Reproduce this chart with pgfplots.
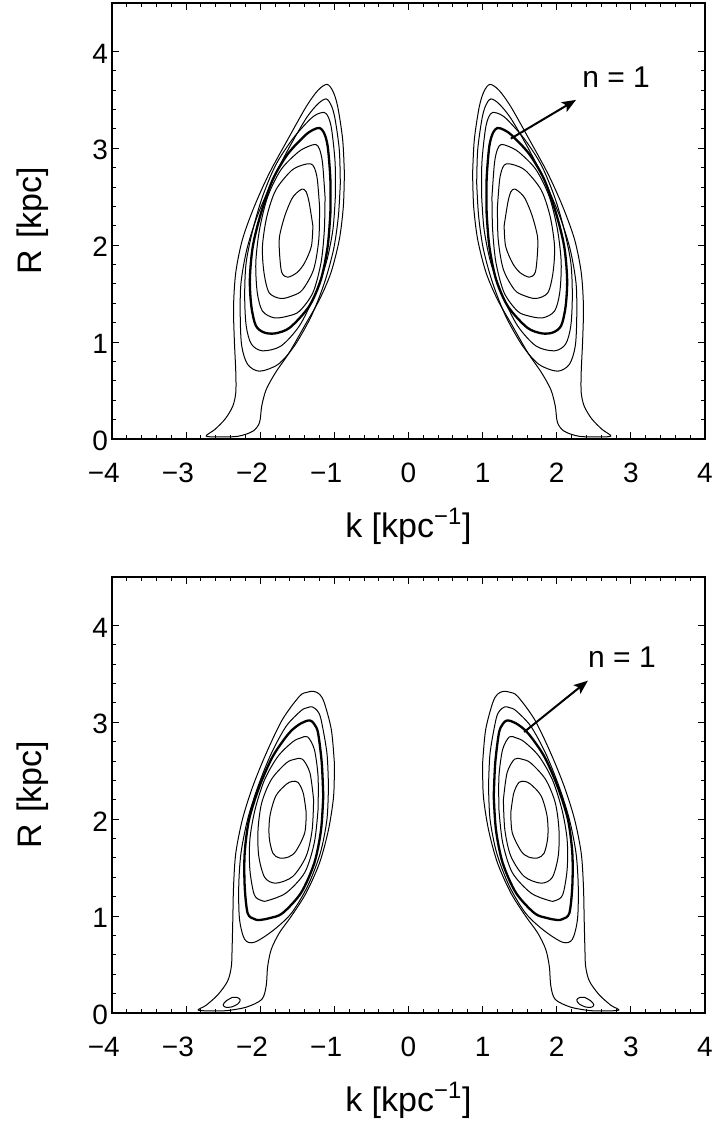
\documentclass[border=0pt]{standalone}
\usepackage{fontspec}
\setmainfont{Liberation Sans}
\usepackage{pgfplots}
\usepackage{pgfplotstable}
\pgfplotsset{compat=1.18}
\usetikzlibrary{arrows.meta}

% right-hand lobes (k > 0); the left lobes are their mirror images
% upper panel, outermost to innermost
\pgfplotstableread{
k R
0.865 2.74
0.888 3.09
0.955 3.43
1.02 3.59
1.10 3.66
1.22 3.60
1.38 3.43
1.63 3.09
1.88 2.74
2.08 2.40
2.24 2.06
2.33 1.72
2.36 1.37
2.35 1.03
2.33 0.69
2.33 0.48
2.37 0.34
2.47 0.21
2.61 0.10
2.73 0.03
2.55 0.022
2.30 0.028
2.10 0.08
2.01 0.17
1.98 0.34
1.92 0.51
1.79 0.69
1.61 0.89
1.40 1.17
1.20 1.44
1.045 1.72
0.933 2.06
0.879 2.40
0.865 2.74
}\topA
\pgfplotstableread{
k R
0.92 2.64
0.933 2.98
0.99 3.30
1.04 3.44
1.11 3.51
1.22 3.46
1.38 3.31
1.63 2.98
1.85 2.64
2.04 2.30
2.18 1.96
2.26 1.61
2.27 1.27
2.25 0.96
2.17 0.77
2.01 0.70
1.76 0.77
1.54 0.96
1.31 1.27
1.135 1.61
1.01 1.96
0.946 2.30
0.92 2.64
}\topB
\pgfplotstableread{
k R
0.987 2.50
0.99 2.85
1.036 3.19
1.08 3.32
1.135 3.37
1.24 3.35
1.34 3.29
1.56 3.10
1.79 2.83
1.97 2.50
2.10 2.16
2.19 1.82
2.21 1.48
2.19 1.17
2.12 0.98
1.97 0.91
1.72 0.96
1.47 1.17
1.27 1.48
1.11 1.82
1.02 2.16
0.987 2.50
}\topC
\pgfplotstableread{
k R
1.054 2.33
1.054 2.68
1.09 3.02
1.14 3.16
1.20 3.21
1.29 3.19
1.40 3.13
1.63 2.94
1.83 2.68
1.99 2.33
2.10 1.99
2.14 1.65
2.12 1.37
2.06 1.17
1.95 1.10
1.80 1.09
1.60 1.15
1.34 1.37
1.18 1.65
1.09 1.99
1.054 2.33
}\topD
\pgfplotstableread{
k R
1.126 2.50
1.16 2.85
1.20 2.99
1.25 3.04
1.35 3.02
1.49 2.96
1.72 2.78
1.90 2.50
2.01 2.16
2.06 1.82
2.04 1.51
1.97 1.32
1.81 1.25
1.62 1.27
1.47 1.32
1.29 1.51
1.18 1.82
1.135 2.16
1.126 2.50
}\topE
\pgfplotstableread{
k R
1.20 2.40
1.23 2.68
1.27 2.80
1.32 2.84
1.42 2.83
1.58 2.77
1.79 2.57
1.91 2.30
1.97 1.99
1.95 1.72
1.88 1.51
1.72 1.45
1.56 1.48
1.43 1.54
1.28 1.75
1.21 2.06
1.20 2.40
}\topF
\pgfplotstableread{
k R
1.29 2.20
1.34 2.44
1.38 2.55
1.43 2.58
1.51 2.54
1.58 2.47
1.67 2.30
1.74 2.09
1.74 1.92
1.71 1.72
1.63 1.67
1.50 1.72
1.40 1.82
1.31 1.99
1.29 2.20
}\topG

% lower panel
\pgfplotstableread{
k R
1.00 2.58
1.04 2.92
1.135 3.20
1.20 3.29
1.28 3.32
1.37 3.31
1.47 3.27
1.70 3.03
1.92 2.68
2.10 2.34
2.24 2.00
2.33 1.65
2.36 1.31
2.37 0.97
2.38 0.66
2.39 0.48
2.44 0.33
2.57 0.19
2.73 0.08
2.84 0.03
2.65 0.022
2.45 0.025
2.19 0.06
1.98 0.14
1.92 0.28
1.90 0.48
1.85 0.66
1.74 0.83
1.58 1.00
1.38 1.24
1.20 1.55
1.08 1.89
1.01 2.24
1.00 2.58
}\botA
\pgfplotstableread{
k R
1.08 2.34
1.10 2.68
1.18 3.03
1.23 3.12
1.30 3.16
1.37 3.15
1.45 3.12
1.65 2.96
1.85 2.68
2.03 2.34
2.17 2.00
2.26 1.65
2.29 1.31
2.28 0.97
2.21 0.76
2.08 0.73
1.83 0.85
1.58 1.03
1.36 1.31
1.19 1.65
1.10 2.00
1.08 2.34
}\botB
\pgfplotstableread{
k R
1.15 2.24
1.17 2.58
1.22 2.89
1.27 2.98
1.33 3.02
1.45 2.99
1.61 2.89
1.83 2.65
2.01 2.34
2.15 2.00
2.21 1.65
2.21 1.31
2.17 1.03
2.08 0.97
2.01 0.96
1.87 0.98
1.70 1.03
1.45 1.24
1.27 1.55
1.18 1.89
1.15 2.24
}\botC
\pgfplotstableread{
k R
1.22 2.10
1.22 2.44
1.27 2.72
1.36 2.85
1.45 2.84
1.56 2.80
1.76 2.65
1.94 2.41
2.07 2.10
2.14 1.79
2.14 1.48
2.08 1.22
1.98 1.16
1.90 1.16
1.65 1.24
1.40 1.45
1.27 1.76
1.22 2.10
}\botD
\pgfplotstableread{
k R
1.28 2.20
1.33 2.48
1.43 2.62
1.53 2.62
1.65 2.58
1.85 2.41
1.98 2.17
2.03 1.89
2.02 1.62
1.94 1.40
1.79 1.34
1.56 1.41
1.38 1.62
1.30 1.89
1.28 2.20
}\botE
\pgfplotstableread{
k R
1.38 2.07
1.42 2.27
1.49 2.38
1.57 2.39
1.65 2.36
1.79 2.24
1.87 2.03
1.88 1.82
1.83 1.65
1.74 1.60
1.62 1.61
1.52 1.67
1.40 1.86
1.38 2.07
}\botF
\pgfplotstableread{
k R
2.38 0.160
2.46 0.125
2.50 0.085
2.47 0.060
2.39 0.062
2.30 0.095
2.27 0.135
2.31 0.160
2.38 0.160
}\botOval

\pgfplotsset{
  panel/.style={
    scale only axis, width=296.5pt, height=218pt,
    anchor=north west,
    xmin=-4, xmax=4, ymin=0, ymax=4.5,
    xtick={-4,...,4},
    xticklabels={\llap{−}4,\llap{−}3,\llap{−}2,\llap{−}1,0,1,2,3,4},
    ytick={0,...,4},
    minor x tick num=4, minor y tick num=4,
    major tick length=3.5pt, minor tick length=2pt,
    tick style={black, line width=0.5pt},
    axis line style={line width=0.75pt},
    /pgf/number format/assume math mode=true,
    ticklabel style={font=\fontsize{14}{16}\selectfont},
    xticklabel style={yshift=-8.5pt},
    yticklabel style={xshift=1.5pt, yshift=-1pt},
    xlabel={k [kpc\textsuperscript{−1}]},
    ylabel={R\,\,[kpc]},
    label style={font=\fontsize{17}{20}\selectfont},
    xlabel style={at={(axis description cs:0.5,-0.2)}, anchor=center},
    ylabel style={at={(axis description cs:-0.133,0.5)}, anchor=center},
  },
  cthin/.style={black, line width=0.5pt, line join=round, smooth},
  cthick/.style={black, line width=1.15pt, line join=round, smooth},
  narrow/.style={black, line width=1pt, -{Stealth[length=7pt,width=5.5pt,inset=1.5pt]}},
}

\begin{document}
\begin{tikzpicture}
\useasboundingbox (0,0) rectangle (356.5pt,-561pt);

\begin{axis}[panel, at={(56pt,-1.5pt)}]
  \addplot[cthin] table[x=k, y=R] {\topA};
  \addplot[cthin] table[x expr=-\thisrow{k}, y=R] {\topA};
  \addplot[cthin] table[x=k, y=R] {\topB};
  \addplot[cthin] table[x expr=-\thisrow{k}, y=R] {\topB};
  \addplot[cthin] table[x=k, y=R] {\topC};
  \addplot[cthin] table[x expr=-\thisrow{k}, y=R] {\topC};
  \addplot[cthick] table[x=k, y=R] {\topD};
  \addplot[cthick] table[x expr=-\thisrow{k}, y=R] {\topD};
  \addplot[cthin] table[x=k, y=R] {\topE};
  \addplot[cthin] table[x expr=-\thisrow{k}, y=R] {\topE};
  \addplot[cthin] table[x=k, y=R] {\topF};
  \addplot[cthin] table[x expr=-\thisrow{k}, y=R] {\topF};
  \addplot[cthin] table[x=k, y=R] {\topG};
  \addplot[cthin] table[x expr=-\thisrow{k}, y=R] {\topG};
  \addplot[narrow] coordinates {(1.38,3.10) (2.26,3.50)};
  \node[font=\fontsize{15}{17}\selectfont] at (axis cs:2.80,3.73) {n = 1};
\end{axis}

\begin{axis}[panel, at={(56pt,-288.5pt)}]
  \addplot[cthin] table[x=k, y=R] {\botA};
  \addplot[cthin] table[x expr=-\thisrow{k}, y=R] {\botA};
  \addplot[cthin] table[x=k, y=R] {\botB};
  \addplot[cthin] table[x expr=-\thisrow{k}, y=R] {\botB};
  \addplot[cthick] table[x=k, y=R] {\botC};
  \addplot[cthick] table[x expr=-\thisrow{k}, y=R] {\botC};
  \addplot[cthin] table[x=k, y=R] {\botD};
  \addplot[cthin] table[x expr=-\thisrow{k}, y=R] {\botD};
  \addplot[cthin] table[x=k, y=R] {\botE};
  \addplot[cthin] table[x expr=-\thisrow{k}, y=R] {\botE};
  \addplot[cthin] table[x=k, y=R] {\botF};
  \addplot[cthin] table[x expr=-\thisrow{k}, y=R] {\botF};
  \addplot[cthin] table[x=k, y=R] {\botOval};
  \addplot[cthin] table[x expr=-\thisrow{k}, y=R] {\botOval};
  \addplot[narrow] coordinates {(1.56,2.90) (2.42,3.43)};
  \node[font=\fontsize{15}{17}\selectfont] at (axis cs:2.88,3.67) {n = 1};
\end{axis}
\end{tikzpicture}
\end{document}
